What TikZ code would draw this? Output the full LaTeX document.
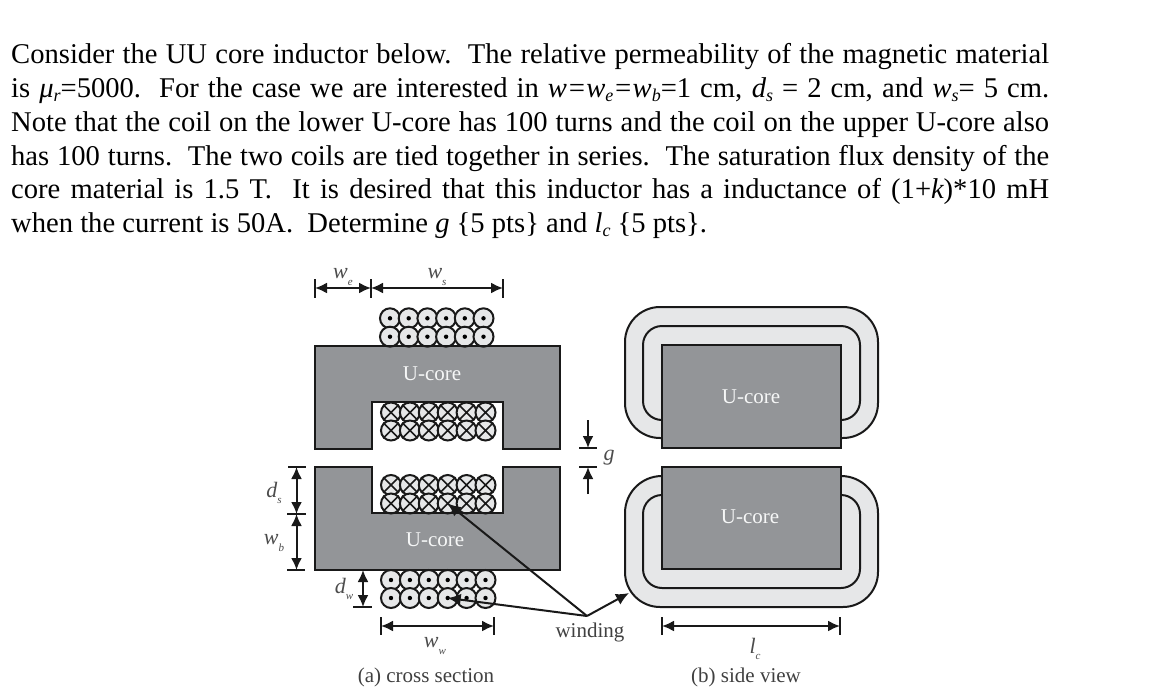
\documentclass[tikz,border=0pt]{standalone}
\usepackage{fontspec}
\setmainfont{Liberation Serif}
\usetikzlibrary{arrows.meta}
\newcommand{\low}[1]{\raisebox{-0.14em}{\fontsize{18}{18}\selectfont\itshape #1}}
\newcommand{\dimsub}[2]{{\itshape #1}\raisebox{-0.3em}{\fontsize{11}{11}\selectfont\itshape #2}}
\tikzset{
  para/.style={anchor=base west,inner sep=0pt,font=\fontsize{28.6}{30}\selectfont,text=black},
  core/.style={draw=black!90,fill=coregray,line width=2pt,line join=miter},
  ring/.style={draw=black!90,fill=ringgray,line width=2pt},
  coreword/.style={inner sep=0pt,text=white!92!coregray,font=\fontsize{21}{22}\selectfont},
  capword/.style={inner sep=0pt,text=black!75,font=\fontsize{21}{22}\selectfont},
  dimword/.style={inner sep=0pt,text=black!70,font=\fontsize{22}{24}\selectfont},
  coil/.style={circle,draw=black!90,fill=ringgray,line width=2pt,minimum size=20pt,inner sep=0pt},
  dimline/.style={draw=black!90,line width=2pt,{Latex[length=12pt,width=11pt]}-{Latex[length=12pt,width=11pt]}},
  oneway/.style={draw=black!90,line width=2pt,-{Latex[length=12pt,width=11pt]}},
  tick/.style={draw=black!90,line width=2pt},
  callout/.style={draw=black!90,line width=2pt,-{Latex[length=13pt,width=12pt]}},
}
\definecolor{coregray}{HTML}{939598}
\definecolor{ringgray}{HTML}{E6E7E8}
\begin{document}
\begin{tikzpicture}[x=1pt,y=-1pt]
\useasboundingbox (0,0) rectangle (1152,699);
% paragraph
\node[para] (t1) at (11,63) {\hbox to 1038pt{Consider the UU core inductor below.\ \ The relative permeability of the magnetic material}};
\node[para] (t2) at (11,97) {\hbox to 1038pt{is {\itshape μ}\low{r}=5000.\ \ For the case we are interested in {\itshape w=w}\low{e}{\itshape =w}\low{b}=1 cm, {\itshape d}\low{s} = 2 cm, and {\itshape w}\low{s}= 5 cm.}};
\node[para] (t3) at (11,131) {\hbox to 1038pt{Note that the coil on the lower U-core has 100 turns and the coil on the upper U-core also}};
\node[para] (t4) at (11,165) {\hbox to 1038pt{has 100 turns.\ \ The two coils are tied together in series.\ \ The saturation flux density of the}};
\node[para] (t5) at (11,198) {\hbox to 1038pt{core material is 1.5 T.\ \ It is desired that this inductor has a inductance of (1+{\itshape k})*10 mH}};
\node[para] (t6) at (11,232) {when the current is 50A.\ \ Determine {\itshape g} \{5 pts\} and {\itshape l}\low{c} \{5 pts\}.};

% side view windings
\draw[ring] (662,438) -- (660,438) arc[start angle=90,end angle=180,radius=35] -- (625,342) arc[start angle=180,end angle=270,radius=35] -- (843,307) arc[start angle=270,end angle=360,radius=35] -- (878,403) arc[start angle=0,end angle=90,radius=35] -- cycle;
\draw[ring] (662,420) arc[start angle=90,end angle=180,radius=19] -- (643,345) arc[start angle=180,end angle=270,radius=19] -- (841,326) arc[start angle=270,end angle=360,radius=19] -- (860,401) arc[start angle=0,end angle=90,radius=19] -- cycle;
\draw[ring] (662,476) arc[start angle=270,end angle=180,radius=37] -- (625,572) arc[start angle=180,end angle=90,radius=35] -- (843,607) arc[start angle=90,end angle=0,radius=35] -- (878,513) arc[start angle=0,end angle=-90,radius=37] -- cycle;
\draw[ring] (662,495) arc[start angle=270,end angle=180,radius=19] -- (643,569) arc[start angle=180,end angle=90,radius=19] -- (841,588) arc[start angle=90,end angle=0,radius=19] -- (860,514) arc[start angle=0,end angle=-90,radius=19] -- cycle;
% side view cores
\draw[core] (662,345) rectangle (841,448);
\draw[core] (662,467) rectangle (841,569);
\node[coreword] (sideA) at (751,397) {U-core};
\node[coreword] (sideB) at (750,517) {U-core};

% cross-section cores
\draw[core] (315,346) -- (560,346) -- (560,449) -- (503,449) -- (503,402) -- (372,402) -- (372,449) -- (315,449) -- cycle;
\draw[core] (315,467) -- (372,467) -- (372,513) -- (503,513) -- (503,467) -- (560,467) -- (560,570) -- (315,570) -- cycle;
\node[coreword] (crossA) at (432,374) {U-core};
\node[coreword] (crossB) at (435,540) {U-core};

% coils
\foreach \c in {1,...,6}{
  \pgfmathsetmacro{\xa}{390+(\c-1)*18.7}
  \pgfmathsetmacro{\xb}{391+(\c-1)*18.9}
  % dotted coils
  \foreach \r/\ya in {1/318.3,2/336.7}{
    \node[coil] (ta\r\c) at (\xa,\ya) {};
    \fill[black] (ta\r\c.center) circle[radius=2.2];
  }
  \foreach \r/\ya in {1/580,2/598}{
    \node[coil] (ba\r\c) at (\xb,\ya) {};
    \fill[black] (ba\r\c.center) circle[radius=2.2];
  }
  % crossed coils
  \foreach \r/\ya in {1/412.5,2/430.5}{
    \node[coil] (tx\r\c) at (\xb,\ya) {};
    \draw[line width=1.6pt,black!90] (tx\r\c.45) -- (tx\r\c.225) (tx\r\c.135) -- (tx\r\c.315);
  }
  \foreach \r/\ya in {1/485,2/503.5}{
    \node[coil] (bx\r\c) at (\xb,\ya) {};
    \draw[line width=1.6pt,black!90] (bx\r\c.45) -- (bx\r\c.225) (bx\r\c.135) -- (bx\r\c.315);
  }
}
% redraw core edges over the coils
\draw[black!90,line width=2pt] (372,402) -- (503,402);
\draw[black!90,line width=2pt] (372,513) -- (503,513);
\draw[black!90,line width=2pt] (315,346) -- (560,346);
\draw[black!90,line width=2pt] (315,570) -- (560,570);

% dimension lines
\coordinate (we1) at (315,288); \coordinate (we2) at (371,288); \coordinate (ws2) at (503,288);
\draw[tick] (315,279) -- (315,298) (371,279) -- (371,298) (503,279) -- (503,298);
\draw[dimline] (we1) -- (we2);
\draw[dimline] (we2) -- (ws2);
\node[dimword] (lwe) at (343,277) {\dimsub{w}{e}};
\node[dimword] (lws) at (437,277) {\dimsub{w}{s}};

\coordinate (ds1) at (296.5,467); \coordinate (ds2) at (296.5,514); \coordinate (wb2) at (296.5,570);
\draw[tick] (288,467) -- (306,467) (287,514) -- (306,514) (287,570) -- (305,570);
\draw[dimline] (ds1) -- (ds2);
\draw[dimline] (ds2) -- (wb2);
\node[dimword] (lds) at (274,493) {\dimsub{d}{s}};
\node[dimword] (lwb) at (274,543) {\dimsub{w}{b}};

\coordinate (dw1) at (363,570); \coordinate (dw2) at (363,607);
\draw[tick] (353,607) -- (372,607);
\draw[dimline] (dw1) -- (dw2);
\node[dimword] (ldw) at (344,589) {\dimsub{d}{w}};

\coordinate (ww1) at (381,626); \coordinate (ww2) at (494,626);
\draw[tick] (381,617) -- (381,635) (494,617) -- (494,635);
\draw[dimline] (ww1) -- (ww2);
\node[dimword] (lww) at (435,646) {\dimsub{w}{w}};

\coordinate (lc1) at (662,626); \coordinate (lc2) at (840,626);
\draw[tick] (662,617) -- (662,635) (840,617) -- (840,635);
\draw[dimline] (lc1) -- (lc2);
\node[dimword] (llc) at (755,649) {\dimsub{l}{c}};

% gap arrows
\coordinate (gtop) at (588,420); \coordinate (gbot) at (588,494);
\coordinate (g1) at (588,448); \coordinate (g2) at (588,467);
\draw[tick] (579,448) -- (597,448) (579,467) -- (597,467);
\draw[oneway] (gtop) -- (g1);
\draw[oneway] (gbot) -- (g2);
\node[dimword] (lg) at (609,458) {{\itshape g}};

% winding callouts
\coordinate (hub) at (587,616);
\coordinate (ringtip) at (629,593);
\node[capword] (lwinding) at (590,632) {winding};
\draw[callout] (hub) -- (bx24.center);
\draw[callout] (hub) -- (ba24.center);
\draw[callout] (hub) -- (ringtip);

% captions
\node[capword] (capA) at (426,677) {(a) cross section};
\node[capword] (capB) at (746,677) {(b) side view};
\end{tikzpicture}
\end{document}
